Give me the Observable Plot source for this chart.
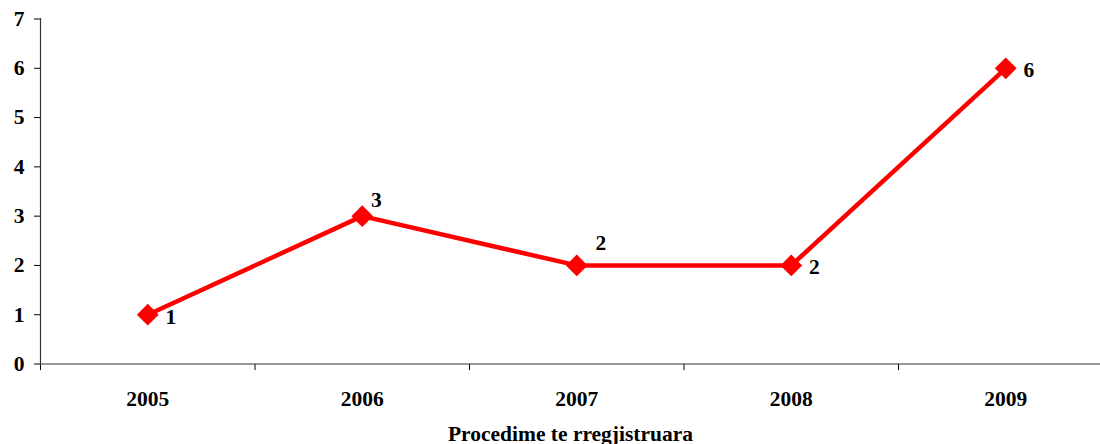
<!DOCTYPE html>
<html>
<head>
<meta charset="utf-8">
<script src="https://cdn.jsdelivr.net/npm/d3@7"></script>
<script src="https://cdn.jsdelivr.net/npm/@observablehq/plot@0.6"></script>
<style>
  html, body { margin: 0; padding: 0; background: #fff; }
  #chart svg { display: block; }
  #chart svg text { font-family: "Liberation Serif", "Times New Roman", serif !important; font-weight: bold; }
</style>
</head>
<body>
<div id="chart"></div>
<script>
const years = ["2005", "2006", "2007", "2008", "2009"];
const values = [1, 3, 2, 2, 6];
const yTicks = [0, 1, 2, 3, 4, 5, 6, 7];
const xLabel = "Procedime te rregjistruara";

const data = years.map((year, i) => ({year, i: i + 0.5, value: values[i]}));
const boundaries = d3.range(0, years.length + 1);
const centers = years.map((_, i) => i + 0.5);

const font = "Liberation Serif";
const red = "#ff0000";
const common = {fontFamily: font, fontWeight: "bold", fontSize: 21.5};

const chart = Plot.plot({
  width: 1100,
  height: 444,
  marginLeft: 40,
  marginRight: 0,
  marginTop: 18,
  marginBottom: 80,
  style: {fontFamily: font, fontWeight: "bold", fontSize: "21.5px", color: "#000", background: "#fff"},
  x: {type: "linear", domain: [0, years.length], range: [40, 1112.5]},
  y: {domain: [0, 7], range: [363.5, 18.5]},
  marks: [
    Plot.axisY(yTicks, {tickSize: 6, tickPadding: 10, label: null, ...common}),
    Plot.axisX(boundaries, {tickSize: 6, tickFormat: () => "", label: null}),
    Plot.axisX(centers, {tickSize: 0, tickPadding: 26, tickFormat: d => years[Math.floor(d)], label: null, ...common}),
    Plot.text([xLabel], {frameAnchor: "bottom", dy: 76, text: d => d, ...common}),
    Plot.ruleX([0], {stroke: "#333", strokeWidth: 1.2}),
    Plot.ruleY([0], {stroke: "#333", strokeWidth: 1.2}),
    Plot.line(data, {x: "i", y: "value", stroke: red, strokeWidth: 4.5}),
    Plot.dot(data, {x: "i", y: "value", symbol: "diamond2", r: 9.8, fill: red, stroke: "none"}),
    Plot.text(data, {filter: d => d.year !== "2006" && d.year !== "2007", x: "i", y: "value", text: d => String(d.value), dx: 23, dy: 2, ...common}),
    Plot.text(data, {filter: d => d.year === "2006", x: "i", y: "value", text: d => String(d.value), dx: 14, dy: -16, ...common}),
    Plot.text(data, {filter: d => d.year === "2007", x: "i", y: "value", text: d => String(d.value), dx: 24, dy: -22, ...common})
  ]
});
document.getElementById("chart").appendChild(chart);
</script>
</body>
</html>
